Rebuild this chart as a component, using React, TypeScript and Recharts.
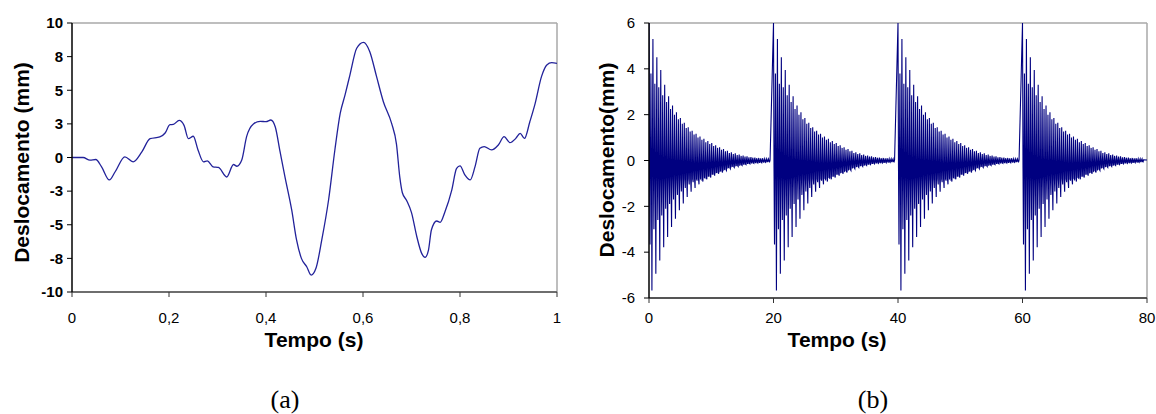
import React from 'react';
import { LineChart, Line, XAxis, YAxis, ReferenceLine } from 'recharts';

// ---------- Chart (a) data ----------
const timeA = [0, 0.023, 0.037, 0.049, 0.061, 0.077, 0.089, 0.109, 0.126, 0.144, 0.161, 0.181, 0.192, 0.202, 0.209, 0.221, 0.231, 0.240, 0.250, 0.260, 0.271, 0.279, 0.291, 0.302, 0.319, 0.333, 0.340, 0.350, 0.360, 0.374, 0.388, 0.400, 0.410, 0.419, 0.429, 0.439, 0.453, 0.463, 0.473, 0.484, 0.493, 0.503, 0.515, 0.529, 0.542, 0.553, 0.563, 0.573, 0.587, 0.601, 0.614, 0.628, 0.642, 0.659, 0.669, 0.676, 0.681, 0.690, 0.700, 0.711, 0.721, 0.728, 0.735, 0.741, 0.752, 0.759, 0.769, 0.783, 0.793, 0.800, 0.810, 0.821, 0.831, 0.841, 0.850, 0.865, 0.879, 0.891, 0.903, 0.915, 0.924, 0.933, 0.944, 0.955, 0.968, 0.979, 0.989, 1.0];
const dispA = [0, 0, -0.2, -0.15, -0.7, -1.67, -1.06, 0.05, -0.32, 0.42, 1.4, 1.53, 1.82, 2.44, 2.46, 2.76, 2.39, 1.4, 1.58, 0.54, -0.32, -0.25, -0.69, -0.74, -1.45, -0.52, -0.65, -0.19, 1.55, 2.49, 2.69, 2.66, 2.79, 2.29, 0.43, -1.42, -3.9, -6.13, -7.5, -8.12, -8.74, -8.24, -6.13, -3.16, 0.56, 3.28, 4.65, 6.13, 8.12, 8.56, 7.87, 6.01, 4.15, 2.54, 1.0, -1.5, -2.6, -3.2, -4.1, -5.89, -7.13, -7.42, -6.88, -5.39, -4.72, -4.82, -4.03, -2.42, -0.81, -0.63, -1.3, -1.67, -0.68, 0.68, 0.81, 0.56, 0.93, 1.55, 1.1, 1.42, 1.8, 1.42, 2.66, 4.03, 6.01, 6.88, 7.05, 7.0];
const ticksXA = [0, 0.2, 0.4, 0.6, 0.8, 1];
const ticksYA = [-10, -7.5, -5, -2.5, 0, 2.5, 5, 7.5, 10];

// ---------- Chart (b) data ----------
const burstStarts = [0, 20, 40, 60];
const cyclePeriod = 0.63;
const phases = [0, 0.08, 0.16, 0.24, 0.31, 0.39, 0.47, 0.55];
const posTall = [6.0, 5.3, 4.5, 3.95, 3.3, 2.8, 2.4, 2.1, 1.85, 1.65, 1.45, 1.3, 1.17, 1.05, 0.95, 0.85, 0.76, 0.67, 0.58, 0.5, 0.42, 0.36, 0.31, 0.26, 0.22, 0.18, 0.15, 0.13, 0.11, 0.1, 0.08];
const posShort = [3.8, 3.35, 3.2, 2.85, 2.55, 2.25, 2.0, 1.8, 1.6, 1.42, 1.27, 1.13, 1.0, 0.9, 0.8, 0.72, 0.63, 0.55, 0.47, 0.4, 0.33, 0.28, 0.24, 0.2, 0.17, 0.14, 0.12, 0.1, 0.09, 0.08, 0.07];
const negTall = [-5.67, -4.94, -4.36, -3.78, -3.34, -2.9, -2.54, -2.17, -1.88, -1.59, -1.36, -1.2, -1.04, -0.92, -0.82, -0.74, -0.66, -0.58, -0.52, -0.44, -0.36, -0.3, -0.26, -0.22, -0.18, -0.15, -0.13, -0.11, -0.1, -0.08, -0.06];
const negShort = [-3.67, -3.0, -2.6, -2.4, -2.1, -1.9, -1.7, -1.5, -1.35, -1.2, -1.05, -0.95, -0.88, -0.82, -0.76, -0.68, -0.6, -0.52, -0.45, -0.38, -0.31, -0.26, -0.22, -0.19, -0.16, -0.13, -0.11, -0.1, -0.08, -0.07, -0.05];
const bandLow = [-0.3, -0.55, -0.7, -0.8, -0.8, -0.8, -0.8, -0.8, -0.8, -0.8, -0.8, -0.8, -0.8, -0.78, -0.74, -0.68, -0.6, -0.53, -0.47, -0.4, -0.32, -0.27, -0.23, -0.2, -0.16, -0.13, -0.11, -0.09, -0.08, -0.06, -0.05];
const bandHigh = [0.3, 0.25, 0.2, 0.18, 0.16, 0.15, 0.14, 0.13, 0.12, 0.12, 0.11, 0.1, 0.1, 0.1, 0.09, 0.09, 0.08, 0.08, 0.07, 0.07, 0.06, 0.06, 0.05, 0.05, 0.05, 0.04, 0.04, 0.04, 0.03, 0.03, 0.03];
const endTime = 80;
const endValue = 0.02;
const ticksXB = [0, 20, 40, 60, 80];
const ticksYB = [-6, -4, -2, 0, 2, 4, 6];

const dataA = timeA.map((t, i) => ({ t, v: dispA[i] }));

const dataB: { t: number; v: number }[] = [];
burstStarts.forEach((s) => {
  posTall.forEach((_, i) => {
    const t0 = s + i * cyclePeriod;
    const vals = [posTall[i], bandLow[i], negShort[i], bandHigh[i], posShort[i], bandLow[i], negTall[i], bandHigh[i]];
    vals.forEach((v, k) => dataB.push({ t: +(t0 + phases[k]).toFixed(3), v }));
  });
});
dataB.push({ t: endTime, v: endValue });

const FONT = "'Liberation Sans', Arial, Helvetica, sans-serif";

const fmtA_Y = (v: number) => String(Math.sign(v) * Math.round(Math.abs(v)));
const fmtA_X = (v: number) => (v === 0 || v === 1 ? String(v) : String(v).replace('.', ','));

export default function App() {
  return (
    <div style={{ position: 'absolute', left: 0, top: 0, width: 1156, height: 414, background: '#fff', overflow: 'hidden' }}>
      <div style={{ position: 'absolute', left: 0, top: 0 }}>
        <LineChart width={580} height={360} data={dataA} margin={{ top: 23, right: 23, bottom: 0, left: 0 }}>
          <XAxis
            dataKey="t"
            type="number"
            domain={[0, 1]}
            ticks={ticksXA}
            tickFormatter={fmtA_X}
            height={68}
            tickSize={5}
            tickMargin={15}
            axisLine={{ stroke: '#6e6e6e', strokeWidth: 2 }}
            tickLine={{ stroke: '#333' }}
            tick={{ fill: '#000', fontSize: 15, fontFamily: FONT }}
            allowDataOverflow
          />
          <YAxis
            type="number"
            domain={[-10, 10]}
            ticks={ticksYA}
            tickFormatter={fmtA_Y}
            width={72}
            tickSize={5}
            tickMargin={4}
            axisLine={{ stroke: '#000', strokeWidth: 1.5 }}
            tickLine={{ stroke: '#000' }}
            tick={{ fill: '#000', fontSize: 15, fontWeight: 'bold', fontFamily: FONT }}
            allowDataOverflow
          />
          <ReferenceLine y={10} stroke="#a8a8a8" strokeWidth={1.5} />
          <ReferenceLine x={1} stroke="#a8a8a8" strokeWidth={1.5} />
          <Line type="monotone" dataKey="v" stroke="#22229a" strokeWidth={1.3} dot={false} isAnimationActive={false} />
        </LineChart>
      </div>
      <div style={{ position: 'absolute', left: 580, top: 0 }}>
        <LineChart width={576} height={360} data={dataB} margin={{ top: 23, right: 9, bottom: 0, left: 0 }}>
          <XAxis
            dataKey="t"
            type="number"
            domain={[0, 80]}
            ticks={ticksXB}
            height={62}
            tickSize={5}
            tickMargin={9}
            axisLine={{ stroke: '#555', strokeWidth: 2 }}
            tickLine={{ stroke: '#333' }}
            tick={{ fill: '#000', fontSize: 15, fontFamily: FONT }}
            allowDataOverflow
          />
          <YAxis
            type="number"
            domain={[-6, 6]}
            ticks={ticksYB}
            width={69}
            tickSize={5}
            tickMargin={9}
            axisLine={{ stroke: '#000', strokeWidth: 1.5 }}
            tickLine={{ stroke: '#000' }}
            tick={{ fill: '#000', fontSize: 15, fontFamily: FONT }}
            allowDataOverflow
          />
          <ReferenceLine y={6} stroke="#a8a8a8" strokeWidth={1.5} />
          <ReferenceLine x={80} stroke="#a8a8a8" strokeWidth={1.5} />
          <Line type="linear" dataKey="v" stroke="#000080" strokeWidth={1.1} dot={false} isAnimationActive={false} />
        </LineChart>
      </div>
      <svg width={1156} height={414} style={{ position: 'absolute', left: 0, top: 0, pointerEvents: 'none' }}>
        <text x={314} y={346.5} textAnchor="middle" fontFamily={FONT} fontWeight="bold" fontSize={21} fill="#000">Tempo (s)</text>
        <text x={837} y={346.5} textAnchor="middle" fontFamily={FONT} fontWeight="bold" fontSize={21} fill="#000">Tempo (s)</text>
        <text transform="translate(29,162.5) rotate(-90)" textAnchor="middle" fontFamily={FONT} fontWeight="bold" fontSize={21} fill="#000">Deslocamento (mm)</text>
        <text transform="translate(614,160) rotate(-90)" textAnchor="middle" fontFamily={FONT} fontWeight="bold" fontSize={21} fill="#000">Deslocamento(mm)</text>
        <text x={285} y={408} textAnchor="middle" fontFamily="'Liberation Serif', 'Times New Roman', serif" fontSize={26} fill="#000">(a)</text>
        <text x={873} y={408} textAnchor="middle" fontFamily="'Liberation Serif', 'Times New Roman', serif" fontSize={26} fill="#000">(b)</text>
      </svg>
    </div>
  );
}
